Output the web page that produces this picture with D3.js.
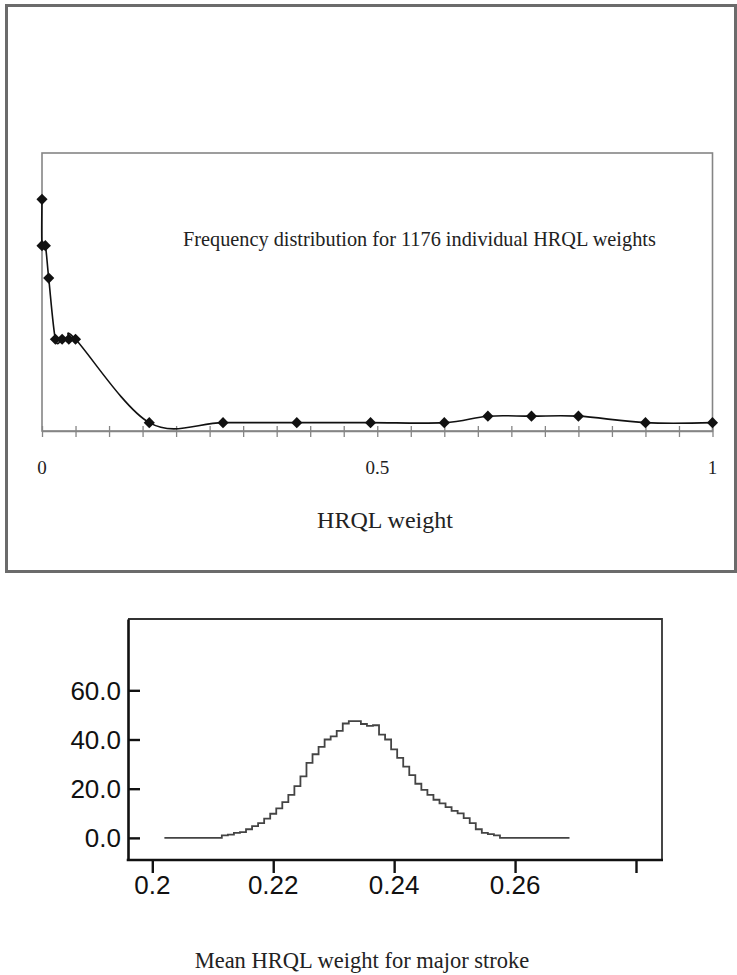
<!DOCTYPE html>
<html>
<head>
<meta charset="utf-8">
<script src="https://cdnjs.cloudflare.com/ajax/libs/d3/7.8.5/d3.min.js"></script>
<style>
    body { margin: 0; background: #ffffff; }
    svg { display: block; }
</style>
</head>
<body>
<script>
// Top chart data (frequency of individual HRQL weights)
var freqX = [0, 0, 0.005, 0.01, 0.02, 0.03, 0.04, 0.05, 0.16, 0.27, 0.38, 0.49, 0.60, 0.665, 0.73, 0.80, 0.90, 1.0];
var freqY = [250, 200, 200, 165, 99, 99, 99, 99, 9, 9, 9, 9, 9, 16, 16, 16, 9, 9];
var topTicks = [0, 0.5, 1];

// Bottom chart data (mean HRQL weight for major stroke)
var meanX = [0.202, 0.203, 0.204, 0.205, 0.206, 0.207, 0.208, 0.209, 0.210, 0.211,
             0.212, 0.213, 0.214, 0.215, 0.216, 0.217, 0.218, 0.219, 0.220, 0.221,
             0.222, 0.223, 0.224, 0.225, 0.226, 0.227, 0.228, 0.229, 0.230, 0.231,
             0.232, 0.233, 0.234, 0.235, 0.236, 0.237, 0.238, 0.239, 0.240, 0.241,
             0.242, 0.243, 0.244, 0.245, 0.246, 0.247, 0.248, 0.249, 0.250, 0.251,
             0.252, 0.253, 0.254, 0.255, 0.256, 0.257, 0.258, 0.259, 0.260, 0.261,
             0.262, 0.263, 0.264, 0.265, 0.266, 0.267, 0.268, 0.269];
var meanY = [0, 0, 0, 0, 0, 0, 0, 0, 0, 0,
             1.0, 1.3, 2.0, 2.3, 3.5, 4.8, 6.0, 7.8, 9.8, 12.0,
             14.5, 17.5, 21.0, 25.0, 30.5, 34.0, 37.0, 40.0, 41.3, 43.5,
             46.5, 47.5, 47.5, 46.3, 45.5, 45.8, 42.0, 40.0, 36.0, 32.5,
             29.0, 25.5, 22.0, 19.5, 17.5, 15.5, 14.0, 12.5, 11.0, 10.0,
             8.0, 6.0, 3.5, 2.0, 1.5, 1.0, 0, 0, 0, 0,
             0, 0, 0, 0, 0, 0, 0, 0];
var bottomXTicks = [0.2, 0.22, 0.24, 0.26, 0.28];
var bottomYTicks = [0, 20, 40, 60];

var WIDTH = 737;
var HEIGHT = 975;

var svg = d3.select("body").append("svg")
    .attr("width", WIDTH)
    .attr("height", HEIGHT);

// ---------- TOP PANEL ----------
// outer frame
svg.append("rect")
    .attr("x", 6.5).attr("y", 5.5)
    .attr("width", 729).attr("height", 566)
    .attr("fill", "none")
    .attr("stroke", "#6b6b6b")
    .attr("stroke-width", 3);

var x1 = d3.scaleLinear().domain([0, 1]).range([42, 712.5]);
var y1 = d3.scaleLinear().domain([0, 300]).range([431, 153]);

// plot box
svg.append("rect")
    .attr("x", x1(0)).attr("y", y1(300))
    .attr("width", x1(1) - x1(0)).attr("height", y1(0) - y1(300))
    .attr("fill", "none")
    .attr("stroke", "#858585")
    .attr("stroke-width", 1.6);

// x axis: tick every 0.05, crossing the line
var minor = svg.append("g")
    .attr("transform", "translate(0," + y1(0) + ")")
    .call(d3.axisBottom(x1).tickValues(d3.range(0, 1.0001, 0.05)).tickSize(6).tickSizeOuter(0).tickFormat(""));
minor.select(".domain").attr("stroke", "#858585").attr("stroke-width", 1.6);
minor.selectAll(".tick line").attr("stroke", "#858585").attr("stroke-width", 1.3).attr("y1", -5);

// tick labels 0, 0.5, 1
svg.append("g").selectAll("text").data(topTicks).enter().append("text")
    .attr("x", function(d) { return x1(d); })
    .attr("y", 474)
    .attr("text-anchor", "middle")
    .attr("font-family", "Liberation Serif, Times New Roman, serif")
    .attr("font-size", "19px")
    .attr("fill", "#222")
    .text(function(d) { return d; });

// axis title
svg.append("text")
    .attr("x", 385)
    .attr("y", 528)
    .attr("text-anchor", "middle")
    .attr("font-family", "Liberation Serif, Times New Roman, serif")
    .attr("font-size", "24px")
    .attr("fill", "#222")
    .text("HRQL weight");

// caption inside plot
svg.append("text")
    .attr("x", 183)
    .attr("y", 246)
    .attr("font-family", "Liberation Serif, Times New Roman, serif")
    .attr("font-size", "20.3px")
    .attr("fill", "#222")
    .text("Frequency distribution for 1176 individual HRQL weights");

// smoothed line through the points
var freqData = freqX.map(function(d, i) { return [d, freqY[i]]; });
var line1 = d3.line()
    .x(function(d) { return x1(d[0]); })
    .y(function(d) { return y1(d[1]); })
    .curve(d3.curveCardinal.tension(0));

svg.append("path")
    .datum(freqData)
    .attr("d", line1)
    .attr("fill", "none")
    .attr("stroke", "#111")
    .attr("stroke-width", 1.6);

// diamond markers
svg.append("g").selectAll("path").data(freqData).enter().append("path")
    .attr("d", d3.symbol().type(d3.symbolSquare).size(62))
    .attr("transform", function(d) { return "translate(" + x1(d[0]) + "," + y1(d[1]) + ") rotate(45)"; })
    .attr("fill", "#111");

// ---------- BOTTOM PANEL ----------
var x2 = d3.scaleLinear().domain([0.2, 0.28]).range([152.3, 636]);
var y2 = d3.scaleLinear().domain([-9, 89]).range([860, 619]);

// top and right border
svg.append("polyline")
    .attr("points", [[128, 619], [662, 619], [662, 860]].join(" "))
    .attr("fill", "none")
    .attr("stroke", "#333")
    .attr("stroke-width", 1.8);

// y axis (ticks point inward)
var yAxis = svg.append("g")
    .attr("transform", "translate(128,0)")
    .call(d3.axisRight(y2).tickValues(bottomYTicks).tickSize(12).tickSizeOuter(0).tickFormat(""));
yAxis.select(".domain").attr("stroke", "#111").attr("stroke-width", 2.6);
yAxis.selectAll(".tick line").attr("stroke", "#111").attr("stroke-width", 2.4);

svg.append("g").selectAll("text").data(bottomYTicks).enter().append("text")
    .attr("x", 121)
    .attr("y", function(d) { return y2(d); })
    .attr("dy", "0.36em")
    .attr("text-anchor", "end")
    .attr("font-family", "Liberation Sans, Arial, sans-serif")
    .attr("font-size", "26px")
    .attr("fill", "#111")
    .text(function(d) { return d3.format(".1f")(d); });

// x axis
var xAxis = svg.append("g")
    .attr("transform", "translate(0,860)")
    .call(d3.axisBottom(x2).tickValues(bottomXTicks).tickSize(13).tickSizeOuter(0).tickFormat(""));
xAxis.select(".domain").attr("d", "M126.7,0H663").attr("stroke", "#111").attr("stroke-width", 2.6);
xAxis.selectAll(".tick line").attr("stroke", "#111").attr("stroke-width", 2.4);

svg.append("g").selectAll("text").data(bottomXTicks.slice(0, 4)).enter().append("text")
    .attr("x", function(d) { return x2(d); })
    .attr("y", 894)
    .attr("text-anchor", "middle")
    .attr("font-family", "Liberation Sans, Arial, sans-serif")
    .attr("font-size", "26px")
    .attr("fill", "#111")
    .text(function(d) { return d; });

// x axis title
svg.append("text")
    .attr("x", 362)
    .attr("y", 968)
    .attr("text-anchor", "middle")
    .attr("font-family", "Liberation Serif, Times New Roman, serif")
    .attr("font-size", "22.5px")
    .attr("fill", "#222")
    .text("Mean HRQL weight for major stroke");

// stepped density line
var meanData = meanX.map(function(d, i) { return [d, meanY[i]]; });
var line2 = d3.line()
    .x(function(d) { return x2(d[0]); })
    .y(function(d) { return y2(d[1]); })
    .curve(d3.curveStep);

svg.append("path")
    .datum(meanData)
    .attr("d", line2)
    .attr("fill", "none")
    .attr("stroke", "#444")
    .attr("stroke-width", 1.8);
</script>
</body>
</html>
